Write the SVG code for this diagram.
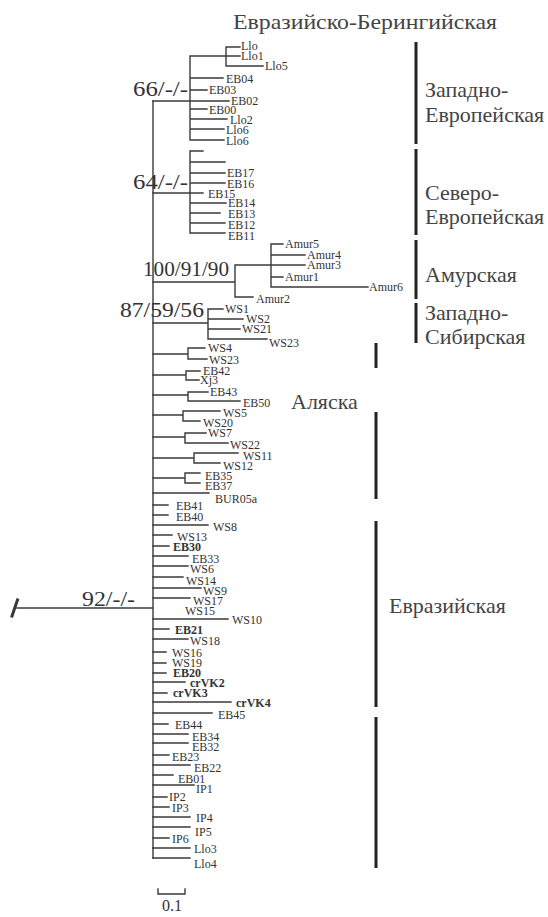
<svg xmlns="http://www.w3.org/2000/svg" width="548" height="917" viewBox="0 0 548 917">
<style>
.br{stroke:#3a3a3a;stroke-width:1.4;fill:none;stroke-linecap:square}
.bar{stroke:#222;stroke-width:3;fill:none}
.lf{font-family:"Liberation Serif","Times New Roman",serif;font-size:12px;fill:#333}
.b{font-weight:bold}
.sup{font-family:"Liberation Serif","Times New Roman",serif;font-size:20px;fill:#333}
.grp{font-family:"Liberation Serif","Times New Roman",serif;font-size:22px;fill:#444}
</style>
<rect width="548" height="917" fill="#fff"/>
<g id="connectors" class="br">
<path d="M17 608H153M153 101V858"/>
<path d="M12 616L17.5 600" stroke-width="3"/>
<path d="M153 101H229M190 56V140M190 56H240M226 47V66M226 47H240M226 66H263M190 78H223M190 90H207M190 109H207M190 119H227M190 129H224M190 140H224"/>
<path d="M153 193H203M190 151V233M190 151H203M190 162H225M190 173H225M190 183H225M190 203H226M190 213H220M190 223H225M190 233H225"/>
<path d="M153 282H235M235 265V297M235 265H271M235 297H253M271 244V287M271 244H283M271 255H305M271 265H305M271 277H283M271 287H368"/>
<path d="M153 323H208M208 309V339M208 309H223M208 319H243M208 329H240M208 339H267"/>
<path d="M153 354H188M188 348V359M188 348H205M188 359H207"/>
<path d="M153 375H186M186 371V380M186 371H200M186 380H199"/>
<path d="M153 395H188M188 392V401M188 392H208M188 401H240"/>
<path d="M153 415H183M183 411V421M183 411H220M183 421H200"/>
<path d="M153 437H185M185 433V443M185 433H206M185 443H228"/>
<path d="M153 458H194M194 453V463M194 453H238M194 463H220"/>
<path d="M153 478H185M185 473V483M185 473H200M185 483H200"/>
<path d="M153 493H209M153 505H168M153 515H168M153 525H208M153 535H172M153 546H169M153 556H188M153 566H188M153 577H183M153 588H201M153 598H190M153 619H228M153 629H169M153 639H188M153 652H166M153 663H166M153 673H166M153 682H185M153 693H167M153 702H231M153 713H212M153 724H168M153 734H188M153 743H188M153 755H169M153 765H190M153 775H173M153 785H194M153 797H167M153 807H169M153 817H190M153 827H190M153 838H169M153 848H190M153 858H190"/>
<path d="M158 889V894H185V889"/>
</g>
<g id="bars" class="bar">
<path d="M416 42V144M416 149V235M416 240V299M416 303V343"/>
<path d="M376 343V368M376 412V499M376 521V707M376 717V868"/>
</g>
<g id="group-labels" class="grp">
<g id="title"><text x="233" y="29" textLength="264" lengthAdjust="spacingAndGlyphs">Евразийско-Берингийская</text></g>
<g id="g-we"><text x="425" y="97">Западно-</text><text x="425" y="122">Европейская</text></g>
<g id="g-ne"><text x="425" y="200">Северо-</text><text x="425" y="224">Европейская</text></g>
<g id="g-amur"><text x="425" y="282">Амурская</text></g>
<g id="g-ws"><text x="425" y="320">Западно-</text><text x="425" y="344">Сибирская</text></g>
<g id="g-alaska"><text x="291" y="409">Аляска</text></g>
<g id="g-eurasia"><text x="389" y="613">Евразийская</text></g>
</g>
<g id="support" class="sup">
<g id="s66"><text x="133" y="96" textLength="55" lengthAdjust="spacingAndGlyphs">66/-/-</text></g>
<g id="s64"><text x="133" y="189" textLength="55" lengthAdjust="spacingAndGlyphs">64/-/-</text></g>
<g id="s100"><text x="143" y="276" textLength="86" lengthAdjust="spacingAndGlyphs">100/91/90</text></g>
<g id="s87"><text x="120" y="317" textLength="84" lengthAdjust="spacingAndGlyphs">87/59/56</text></g>
<g id="s92"><text x="82" y="606" textLength="53" lengthAdjust="spacingAndGlyphs">92/-/-</text></g>
</g>
<g id="leaves" class="lf">
<g id="n-Llo"><text x="241" y="50">Llo</text></g>
<g id="n-Llo1"><text x="241" y="60">Llo1</text></g>
<g id="n-Llo5"><text x="265" y="70">Llo5</text></g>
<g id="n-EB04"><text x="226" y="83">EB04</text></g>
<g id="n-EB03"><text x="209" y="94">EB03</text></g>
<g id="n-EB02"><text x="231" y="105">EB02</text></g>
<g id="n-EB00"><text x="209" y="114">EB00</text></g>
<g id="n-Llo2"><text x="230" y="124">Llo2</text></g>
<g id="n-Llo6a"><text x="226" y="134">Llo6</text></g>
<g id="n-Llo6b"><text x="226" y="145">Llo6</text></g>
<g id="n-EB17"><text x="227" y="177">EB17</text></g>
<g id="n-EB16"><text x="227" y="188">EB16</text></g>
<g id="n-EB15"><text x="208" y="198">EB15</text></g>
<g id="n-EB14"><text x="228" y="207">EB14</text></g>
<g id="n-EB13"><text x="228" y="218">EB13</text></g>
<g id="n-EB12"><text x="228" y="229">EB12</text></g>
<g id="n-EB11"><text x="228" y="240">EB11</text></g>
<g id="n-Amur5"><text x="285" y="248">Amur5</text></g>
<g id="n-Amur4"><text x="307" y="259">Amur4</text></g>
<g id="n-Amur3"><text x="307" y="269">Amur3</text></g>
<g id="n-Amur1"><text x="285" y="281">Amur1</text></g>
<g id="n-Amur6"><text x="369" y="291">Amur6</text></g>
<g id="n-Amur2"><text x="256" y="303">Amur2</text></g>
<g id="n-WS1"><text x="225" y="313">WS1</text></g>
<g id="n-WS2"><text x="246" y="323">WS2</text></g>
<g id="n-WS21"><text x="242" y="333">WS21</text></g>
<g id="n-WS23a"><text x="269" y="347">WS23</text></g>
<g id="n-WS4"><text x="208" y="352">WS4</text></g>
<g id="n-WS23b"><text x="209" y="364">WS23</text></g>
<g id="n-EB42"><text x="203" y="375">EB42</text></g>
<g id="n-Xj3"><text x="200" y="384">Xj3</text></g>
<g id="n-EB43"><text x="210" y="396">EB43</text></g>
<g id="n-EB50"><text x="243" y="407">EB50</text></g>
<g id="n-WS5"><text x="223" y="417">WS5</text></g>
<g id="n-WS20"><text x="203" y="427">WS20</text></g>
<g id="n-WS7"><text x="208" y="437">WS7</text></g>
<g id="n-WS22"><text x="230" y="449">WS22</text></g>
<g id="n-WS11"><text x="243" y="460">WS11</text></g>
<g id="n-WS12"><text x="223" y="470">WS12</text></g>
<g id="n-EB35"><text x="205" y="480">EB35</text></g>
<g id="n-EB37"><text x="205" y="490">EB37</text></g>
<g id="n-BUR05a"><text x="215" y="503">BUR05a</text></g>
<g id="n-EB41"><text x="176" y="510">EB41</text></g>
<g id="n-EB40"><text x="176" y="521">EB40</text></g>
<g id="n-WS8"><text x="213" y="531">WS8</text></g>
<g id="n-WS13"><text x="177" y="541">WS13</text></g>
<g id="n-EB30"><text class="b" x="173" y="551">EB30</text></g>
<g id="n-EB33"><text x="192" y="563">EB33</text></g>
<g id="n-WS6"><text x="190" y="573">WS6</text></g>
<g id="n-WS14"><text x="186" y="585">WS14</text></g>
<g id="n-WS9"><text x="203" y="595">WS9</text></g>
<g id="n-WS17"><text x="193" y="605">WS17</text></g>
<g id="n-WS15"><text x="185" y="615">WS15</text></g>
<g id="n-WS10"><text x="232" y="624">WS10</text></g>
<g id="n-EB21"><text class="b" x="175" y="634">EB21</text></g>
<g id="n-WS18"><text x="190" y="645">WS18</text></g>
<g id="n-WS16"><text x="172" y="657">WS16</text></g>
<g id="n-WS19"><text x="172" y="667">WS19</text></g>
<g id="n-EB20"><text class="b" x="173" y="677">EB20</text></g>
<g id="n-crVK2"><text class="b" x="190" y="687">crVK2</text></g>
<g id="n-crVK3"><text class="b" x="173" y="697">crVK3</text></g>
<g id="n-crVK4"><text class="b" x="236" y="707">crVK4</text></g>
<g id="n-EB45"><text x="218" y="719">EB45</text></g>
<g id="n-EB44"><text x="175" y="729">EB44</text></g>
<g id="n-EB34"><text x="192" y="741">EB34</text></g>
<g id="n-EB32"><text x="192" y="751">EB32</text></g>
<g id="n-EB23"><text x="172" y="761">EB23</text></g>
<g id="n-EB22"><text x="194" y="772">EB22</text></g>
<g id="n-EB01"><text x="178" y="783">EB01</text></g>
<g id="n-IP1"><text x="196" y="793">IP1</text></g>
<g id="n-IP2"><text x="169" y="801">IP2</text></g>
<g id="n-IP3"><text x="172" y="812">IP3</text></g>
<g id="n-IP4"><text x="196" y="822">IP4</text></g>
<g id="n-IP5"><text x="195" y="836">IP5</text></g>
<g id="n-IP6"><text x="172" y="843">IP6</text></g>
<g id="n-Llo3"><text x="194" y="853">Llo3</text></g>
<g id="n-Llo4"><text x="194" y="868">Llo4</text></g>
</g>
<g id="scale"><text x="172" y="911" text-anchor="middle" font-family="Liberation Serif, serif" font-size="16" fill="#333">0.1</text></g>
</svg>
